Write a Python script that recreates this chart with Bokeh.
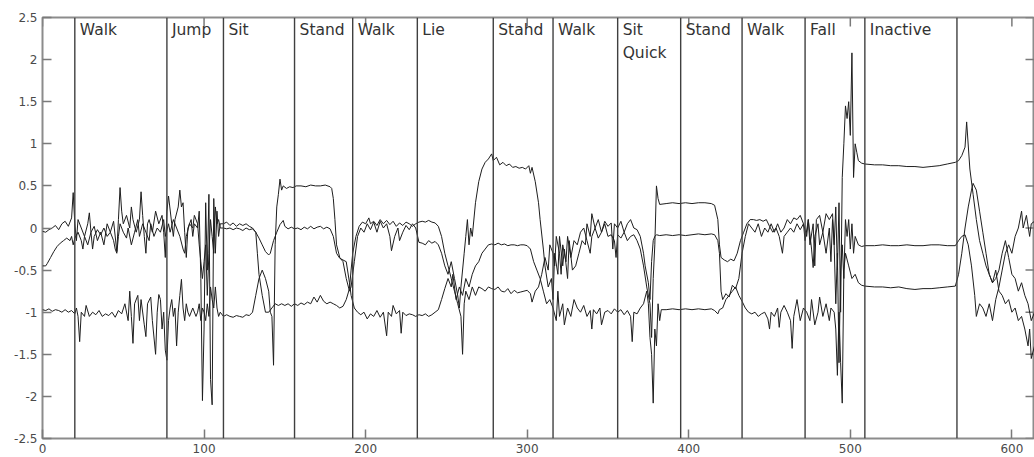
import math
from bokeh.plotting import figure
from bokeh.models import Span, FixedTicker, Range1d, ColumnDataSource
from bokeh.embed import file_html
from bokeh.resources import INLINE
from bokeh.core.properties import value

# ---------------- data ----------------
x_ticks = [0, 100, 200, 300, 400, 500, 600]
y_ticks = [-2.5, -2, -1.5, -1, -0.5, 0, 0.5, 1, 1.5, 2, 2.5]
y_tick_labels = ["-2.5", "-2", "-1.5", "-1", "-0.5", "0", "0.5", "1", "1.5", "2", "2.5"]

region_starts = [20, 77, 112, 156, 192, 232, 279, 316, 356, 395, 433, 472, 509, 566]
region_labels = ["Walk", "Jump", "Sit", "Stand", "Walk", "Lie", "Stahd", "Walk",
                 "Sit\nQuick", "Stand", "Walk", "Fall", "Inactive"]

signal_a = [
    (0, -0.04), (2, -0.05), (4, -0.02), (6, 0.0), (8, 0.03), (10, -0.02), (12, 0.05), (14, 0.08), (16, 0.02),
    (18, 0.12), (19, 0.42), (20, 0.05), (21, -0.15), (22, 0.1), (24, 0.0), (26, -0.1), (28, 0.05), (29, 0.18),
    (30, -0.05), (32, 0.02), (34, -0.15), (36, -0.05), (38, -0.2), (40, 0.05), (42, -0.05), (44, 0.08),
    (46, -0.28), (47, 0.1), (48, 0.48), (49, 0.2), (50, 0.05), (52, 0.15), (54, 0.0), (55, 0.25), (56, 0.1),
    (58, -0.05), (60, 0.1), (61, 0.43), (62, 0.15), (63, -0.1), (64, -0.3), (65, 0.05), (66, 0.1), (68, -0.05),
    (70, 0.2), (72, 0.05), (74, 0.15), (75, -0.05), (76, -0.35), (77, 0.2), (78, 0.38), (80, 0.05), (81, -0.1),
    (82, 0.1), (84, 0.25), (85, 0.45), (86, 0.25), (87, 0.3), (88, -0.05), (89, -0.35), (90, 0.0), (92, 0.1),
    (93, -0.1), (94, 0.05), (96, 0.0), (97, 0.2), (98, -0.6), (99, -2.05), (100, -1.2), (101, 0.3), (102, -0.5),
    (103, 0.4), (104, -1.8), (105, -2.1), (106, 0.35), (107, -0.3), (108, 0.2), (109, -0.1), (110, 0.05),
    (112, 0.05), (114, 0.07), (116, 0.03), (118, 0.06), (120, 0.02), (122, 0.05), (124, 0.03), (126, 0.05),
    (128, 0.02), (130, 0.0), (132, -0.05), (134, -0.12), (136, -0.2), (138, -0.28), (140, -0.32), (141, -0.3),
    (143, -0.15), (145, -0.05), (147, 0.04), (149, 0.09), (150, 0.02), (152, -0.01), (154, 0.01), (156, -0.01),
    (158, 0.0), (160, -0.02), (162, 0.01), (164, -0.01), (166, 0.02), (168, -0.01), (170, 0.01), (172, 0.02),
    (174, -0.01), (176, 0.01), (178, -0.01), (180, -0.1), (182, -0.3), (184, -0.36), (186, -0.38), (188, -0.4),
    (190, -0.65), (191, -0.8), (193, -0.95), (195, -1.0), (197, -1.03), (199, -1.0), (201, -1.08), (203, -1.02),
    (205, -1.05), (207, -0.98), (209, -1.06), (211, -1.0), (213, -1.28), (214, -1.0), (216, -1.05), (217, -0.92),
    (219, -1.02), (221, -0.98), (222, -1.25), (223, -1.0), (225, -1.04), (227, -1.02), (229, -1.03), (231, -1.05),
    (233, -1.03), (235, -1.04), (237, -1.02), (239, -1.05), (241, -1.03), (243, -1.0), (245, -0.97), (247, -0.85),
    (249, -0.72), (251, -0.6), (253, -0.7), (254, -0.55), (256, -0.85), (258, -0.7), (260, -0.8), (262, -0.6),
    (264, -0.7), (266, -0.55), (268, -0.45), (270, -0.4), (272, -0.3), (274, -0.25), (276, -0.2), (278, -0.19),
    (280, -0.2), (282, -0.18), (284, -0.2), (286, -0.19), (288, -0.21), (290, -0.2), (292, -0.2), (294, -0.21),
    (296, -0.2), (298, -0.2), (300, -0.21), (302, -0.25), (304, -0.4), (306, -0.5), (308, -0.6), (310, -0.75),
    (312, -0.9), (314, -0.85), (316, -0.95), (318, -1.1), (319, -0.75), (320, -1.05), (322, -0.9), (323, -1.15),
    (325, -0.95), (327, -1.05), (329, -0.85), (331, -0.95), (333, -1.0), (335, -0.92), (337, -1.05), (339, -0.98),
    (340, -1.2), (341, -0.97), (343, -1.02), (345, -0.95), (346, -1.15), (348, -1.0), (350, -0.98), (352, -1.02),
    (354, -0.96), (356, -1.0), (358, -0.97), (360, -1.03), (362, -0.98), (364, -1.05), (365, -1.35), (366, -1.0),
    (368, -1.02), (370, -0.95), (372, -0.9), (374, -0.75), (375, -0.9), (376, -1.3), (377, -1.5), (378, -2.08),
    (379, -1.2), (380, -1.4), (381, -0.9), (382, -1.1), (383, -0.97), (386, -0.97), (390, -0.96), (394, -0.97),
    (398, -0.96), (402, -0.97), (406, -0.96), (410, -0.97), (414, -0.96), (416, -0.98), (418, -1.02), (419, -0.97),
    (421, -0.95), (423, -0.85), (425, -0.8), (427, -0.75), (429, -0.7), (431, -0.8), (433, -0.87), (435, -0.95),
    (437, -1.0), (439, -1.02), (441, -1.0), (443, -1.05), (445, -1.02), (447, -1.0), (449, -1.08), (450, -1.2),
    (451, -1.0), (453, -1.05), (455, -0.95), (456, -1.18), (457, -1.0), (459, -0.92), (461, -1.0), (463, -1.1),
    (464, -1.43), (465, -1.05), (467, -0.85), (469, -1.1), (471, -0.95), (473, -1.0), (475, -1.1), (476, -0.85),
    (478, -1.15), (480, -1.0), (481, -0.82), (483, -1.05), (485, -0.9), (487, -1.1), (488, -0.95), (490, -1.0),
    (491, -1.2), (492, -1.75), (493, -1.0), (494, -1.6), (495, -2.08), (496, -0.5), (497, -0.3), (499, -0.45),
    (501, -0.6), (503, -0.55), (505, -0.65), (507, -0.68), (509, -0.69), (515, -0.7), (520, -0.7), (525, -0.71),
    (530, -0.7), (535, -0.72), (540, -0.73), (545, -0.72), (550, -0.72), (555, -0.71), (560, -0.7), (565, -0.69),
    (567, -0.55), (569, -0.3), (571, 0.0), (573, 0.25), (575, 0.45), (576, 0.53), (578, 0.45), (580, 0.2),
    (582, -0.05), (584, -0.3), (586, -0.55), (588, -0.65), (590, -0.6), (592, -0.5), (594, -0.3), (596, -0.15),
    (598, -0.35), (600, -0.55), (602, -0.6), (604, -0.75), (606, -0.65), (608, -0.8), (610, -0.9), (612, -1.1),
    (614, -1.0),
]

signal_b = [
    (0, -0.45), (2, -0.45), (3, -0.42), (5, -0.35), (7, -0.28), (9, -0.22), (11, -0.18), (13, -0.15), (15, -0.12),
    (17, -0.15), (18, -0.1), (19, -0.2), (20, -0.12), (22, -0.05), (24, -0.15), (25, -0.25), (26, -0.1), (28, -0.2),
    (30, -0.05), (31, -0.25), (32, -0.1), (34, -0.02), (36, -0.08), (38, 0.0), (40, -0.1), (42, -0.05), (44, -0.15),
    (45, -0.25), (46, -0.3), (47, -0.1), (48, 0.05), (50, -0.05), (52, -0.12), (53, 0.0), (55, -0.2), (57, -0.05),
    (59, 0.1), (60, -0.1), (62, 0.05), (64, -0.05), (66, -0.15), (67, 0.05), (69, -0.1), (71, 0.0), (73, -0.05),
    (75, 0.1), (76, -0.1), (78, 0.05), (79, -0.05), (81, 0.1), (83, 0.0), (85, -0.1), (87, -0.25), (88, -0.3),
    (89, -0.1), (91, 0.05), (93, 0.0), (94, 0.15), (96, 0.05), (97, -0.2), (98, -0.4), (99, -0.6), (100, -0.4),
    (101, -0.2), (102, -0.8), (103, -0.3), (104, 0.1), (105, -0.1), (106, -0.3), (107, 0.25), (108, 0.05),
    (109, 0.1), (110, 0.0), (112, 0.0), (114, -0.01), (116, 0.0), (118, -0.02), (120, 0.0), (122, -0.01),
    (124, -0.03), (126, 0.0), (128, -0.02), (130, -0.01), (132, -0.05), (133, -0.3), (134, -0.55), (136, -0.8),
    (138, -1.0), (140, -1.0), (142, -0.95), (144, -0.9), (146, -0.92), (148, -0.9), (150, -0.92), (152, -0.9),
    (154, -0.93), (156, -0.9), (158, -0.92), (160, -0.89), (162, -0.91), (164, -0.88), (166, -0.9), (168, -0.82),
    (170, -0.88), (172, -0.8), (174, -0.87), (176, -0.9), (178, -0.88), (180, -0.9), (182, -0.92), (184, -0.95),
    (186, -0.93), (188, -0.85), (190, -0.72), (191, -0.5), (192, -0.3), (194, -0.1), (196, 0.02), (198, 0.07),
    (200, 0.05), (202, 0.12), (203, 0.05), (205, 0.08), (207, 0.03), (209, 0.1), (211, 0.05), (213, 0.09),
    (215, 0.04), (217, 0.08), (219, 0.02), (221, 0.06), (223, 0.03), (225, 0.07), (227, 0.05), (229, 0.02),
    (231, 0.05), (233, 0.07), (235, 0.08), (237, 0.07), (239, 0.09), (241, 0.07), (243, 0.06), (245, 0.02),
    (247, -0.1), (249, -0.3), (251, -0.45), (253, -0.6), (255, -0.75), (257, -0.9), (259, -1.05), (260, -1.5),
    (261, -0.9), (262, -0.75), (264, -0.85), (266, -0.7), (268, -0.8), (270, -0.7), (272, -0.72), (274, -0.75),
    (276, -0.7), (278, -0.72), (280, -0.73), (282, -0.7), (284, -0.75), (286, -0.76), (288, -0.72), (290, -0.78),
    (292, -0.74), (294, -0.77), (296, -0.76), (298, -0.75), (300, -0.74), (302, -0.78), (303, -0.88), (305, -0.75),
    (307, -0.7), (309, -0.55), (311, -0.35), (313, -0.5), (314, -0.2), (316, -0.3), (317, -0.45), (318, -0.1),
    (320, -0.3), (321, -0.55), (322, -0.2), (324, -0.4), (325, -0.1), (327, -0.35), (329, -0.15), (331, -0.2),
    (333, -0.05), (335, 0.0), (337, -0.15), (339, -0.3), (340, -0.1), (342, 0.0), (344, -0.12), (346, -0.05),
    (348, 0.05), (350, -0.1), (352, -0.08), (354, -0.15), (355, -0.35), (356, -0.08), (358, -0.12), (360, -0.05),
    (362, -0.15), (364, -0.1), (366, -0.08), (368, -0.15), (370, -0.25), (372, -0.45), (374, -0.7), (376, -0.9),
    (377, -1.3), (378, -0.6), (379, -0.2), (380, 0.5), (381, 0.35), (382, 0.28), (386, 0.29), (390, 0.3),
    (394, 0.29), (398, 0.3), (402, 0.29), (406, 0.3), (410, 0.3), (414, 0.29), (416, 0.27), (418, 0.1),
    (419, -0.2), (420, -0.35), (422, -0.38), (424, -0.4), (426, -0.37), (428, -0.39), (430, -0.3), (432, -0.15),
    (434, -0.05), (436, 0.05), (438, 0.1), (440, 0.1), (442, 0.09), (444, 0.1), (446, 0.08), (448, 0.1),
    (450, 0.02), (452, -0.05), (454, 0.0), (456, -0.1), (458, -0.3), (459, -0.1), (461, -0.05), (463, 0.0),
    (465, -0.05), (467, 0.05), (469, -0.02), (471, 0.05), (472, -0.15), (474, 0.1), (475, -0.2), (477, 0.05),
    (478, -0.45), (479, 0.1), (481, 0.15), (483, -0.05), (485, 0.17), (487, 0.1), (489, 0.17), (490, -0.2),
    (491, 0.25), (492, -0.5), (493, 0.3), (494, -1.0), (495, 0.6), (496, 1.0), (497, 1.45), (498, 1.3),
    (499, 1.5), (500, 1.1), (501, 2.08), (502, 0.6), (503, 1.0), (504, 0.9), (505, 0.8), (507, 0.77), (509, 0.76),
    (515, 0.75), (520, 0.75), (525, 0.74), (530, 0.74), (535, 0.73), (540, 0.73), (545, 0.72), (550, 0.73),
    (555, 0.74), (560, 0.76), (565, 0.78), (567, 0.8), (569, 0.86), (571, 0.96), (572, 1.26), (574, 0.7),
    (576, 0.4), (578, 0.1), (580, -0.15), (582, -0.3), (584, -0.45), (586, -0.55), (588, -0.65), (590, -0.5),
    (592, -0.75), (594, -0.8), (596, -0.9), (598, -0.85), (600, -1.0), (602, -0.95), (604, -1.1), (606, -1.05),
    (608, -1.2), (610, -1.4), (611, -1.2), (612, -1.55), (614, -1.4),
]

signal_c = [
    (0, -0.97), (2, -0.98), (4, -0.96), (6, -0.99), (8, -0.97), (10, -0.98), (12, -1.0), (14, -0.97), (16, -1.0),
    (18, -0.98), (20, -1.02), (21, -0.95), (22, -1.05), (23, -1.35), (24, -1.0), (26, -1.05), (27, -0.92),
    (29, -1.05), (31, -1.0), (33, -1.03), (35, -0.98), (37, -1.05), (39, -1.02), (41, -1.04), (43, -1.0),
    (45, -1.06), (47, -0.98), (49, -1.02), (51, -0.9), (53, -1.1), (54, -0.75), (55, -1.05), (56, -1.37),
    (57, -0.9), (59, -0.8), (60, -1.1), (61, -0.85), (63, -1.15), (64, -1.29), (65, -0.9), (67, -0.82),
    (68, -1.1), (70, -1.5), (71, -1.0), (72, -0.79), (73, -0.85), (74, -1.2), (75, -1.0), (76, -1.45),
    (77, -1.57), (78, -1.1), (79, -0.95), (80, -0.85), (81, -1.05), (82, -0.95), (83, -1.4), (84, -1.0),
    (85, -0.8), (86, -0.61), (87, -0.95), (88, -1.1), (89, -0.9), (90, -1.0), (91, -1.05), (93, -0.95),
    (95, -1.05), (96, -1.0), (97, -0.9), (98, -1.1), (99, -0.95), (100, -1.0), (101, -1.1), (102, -0.9),
    (103, -1.05), (104, -0.7), (105, -0.85), (106, -0.95), (107, -0.7), (108, -0.95), (109, -1.05), (110, -1.0),
    (112, -1.05), (114, -1.03), (116, -1.05), (118, -1.06), (120, -1.04), (122, -1.05), (124, -1.06),
    (126, -1.03), (128, -1.04), (130, -1.0), (132, -0.8), (134, -0.6), (136, -0.5), (138, -0.6), (140, -0.75),
    (141, -1.0), (142, -1.05), (143, -1.63), (144, -0.2), (145, 0.25), (146, 0.4), (147, 0.58), (148, 0.45),
    (149, 0.5), (151, 0.47), (153, 0.49), (155, 0.48), (157, 0.5), (160, 0.5), (163, 0.49), (166, 0.51),
    (169, 0.5), (172, 0.5), (175, 0.51), (178, 0.49), (179, 0.47), (180, 0.35), (181, 0.1), (182, -0.2),
    (184, -0.35), (186, -0.4), (188, -0.6), (190, -0.75), (191, -0.7), (193, -0.4), (195, -0.1), (197, 0.0),
    (199, -0.05), (201, 0.05), (203, -0.02), (205, 0.07), (207, -0.05), (209, 0.08), (211, 0.0), (213, 0.05),
    (215, -0.1), (216, -0.27), (218, -0.1), (220, 0.0), (221, -0.15), (223, -0.05), (225, 0.03), (227, -0.02),
    (229, 0.05), (231, 0.0), (233, -0.17), (235, -0.18), (237, -0.2), (239, -0.15), (241, -0.18), (243, -0.16),
    (245, -0.2), (247, -0.3), (249, -0.45), (251, -0.55), (253, -0.4), (255, -0.6), (257, -0.8), (258, -0.95),
    (259, -0.7), (261, -0.3), (262, -0.1), (263, 0.1), (264, -0.2), (265, 0.0), (266, -0.1), (268, 0.3),
    (270, 0.55), (272, 0.7), (274, 0.78), (276, 0.82), (278, 0.88), (279, 0.8), (281, 0.84), (283, 0.75),
    (285, 0.78), (287, 0.74), (289, 0.76), (291, 0.72), (293, 0.73), (295, 0.71), (297, 0.72), (299, 0.7),
    (301, 0.74), (302, 0.65), (303, 0.72), (305, 0.55), (307, 0.3), (308, 0.1), (310, -0.25), (311, -0.45),
    (313, -0.7), (315, -0.6), (316, -0.85), (317, -0.3), (319, -0.55), (320, -0.1), (322, -0.45), (323, -0.25),
    (325, -0.6), (326, -0.15), (328, -0.5), (330, -0.45), (332, -0.3), (334, -0.15), (336, -0.2), (337, 0.05),
    (339, -0.1), (340, 0.17), (342, 0.0), (344, 0.1), (346, -0.05), (348, 0.08), (350, 0.02), (352, 0.06),
    (353, -0.25), (354, 0.05), (356, 0.0), (358, 0.08), (360, -0.05), (362, 0.05), (364, 0.1), (366, 0.0),
    (368, -0.02), (370, -0.1), (372, -0.3), (373, -0.45), (375, -0.65), (376, -0.85), (377, -0.4), (378, -0.15),
    (379, -0.1), (380, -0.08), (382, -0.09), (386, -0.08), (390, -0.09), (394, -0.08), (398, -0.09), (402, -0.08),
    (406, -0.07), (410, -0.08), (414, -0.07), (416, -0.08), (418, -0.15), (419, -0.3), (420, -0.75), (421, -0.85),
    (423, -0.78), (425, -0.82), (427, -0.68), (429, -0.72), (431, -0.6), (433, -0.3), (435, -0.1), (437, 0.05),
    (439, 0.0), (441, -0.05), (443, 0.05), (445, -0.1), (447, 0.0), (449, -0.05), (451, 0.05), (453, -0.05),
    (455, 0.05), (457, -0.05), (459, 0.0), (461, 0.1), (463, 0.05), (465, 0.12), (467, 0.1), (469, 0.15),
    (471, 0.05), (473, -0.1), (474, 0.1), (476, -0.25), (477, -0.47), (478, -0.1), (480, 0.05), (481, -0.2),
    (483, -0.05), (485, -0.3), (487, 0.0), (488, -0.4), (489, 0.1), (490, -0.2), (491, -0.9), (492, -0.3),
    (493, -1.6), (494, -0.5), (495, -0.2), (496, -0.6), (497, 0.1), (498, -0.1), (499, 0.1), (500, -0.25),
    (501, 0.05), (502, -0.3), (503, -0.1), (505, -0.2), (507, -0.22), (509, -0.21), (515, -0.21), (520, -0.2),
    (525, -0.21), (530, -0.21), (535, -0.2), (540, -0.21), (545, -0.21), (550, -0.2), (555, -0.2), (560, -0.21),
    (565, -0.21), (567, -0.15), (569, -0.1), (571, -0.08), (573, -0.2), (575, -0.45), (577, -0.8), (578, -1.05),
    (580, -0.9), (582, -0.95), (584, -1.05), (586, -0.9), (588, -1.1), (590, -0.85), (592, -0.7), (594, -0.5),
    (596, -0.3), (598, -0.2), (600, -0.3), (602, -0.1), (604, 0.0), (606, 0.2), (607, 0.0), (609, 0.15),
    (611, -0.1), (612, 0.05), (614, 0.08),
]

# ---------------- figure ----------------
X_MIN, X_MAX = 0, 614
Y_MIN, Y_MAX = -2.5, 2.5

p = figure(frame_width=992, frame_height=421,
           x_range=Range1d(X_MIN, X_MAX), y_range=Range1d(Y_MIN, Y_MAX),
           output_backend="svg", toolbar_location=None,
           min_border_left=42, min_border_right=0, min_border_top=17, min_border_bottom=18)

p.background_fill_color = "white"
p.border_fill_color = "white"
p.xgrid.visible = False
p.ygrid.visible = False
p.outline_line_color = "#8c8c8c"
p.outline_line_width = 2

TICK_COLOR = "#7a7a7a"
LABEL_COLOR = "#4a4a4a"
FONT = "DejaVu Sans"


def style_axis(ax, ticks):
    ax.ticker = FixedTicker(ticks=ticks)
    ax.major_tick_in = 9
    ax.major_tick_out = 0
    ax.minor_tick_line_color = None
    ax.major_tick_line_color = TICK_COLOR
    ax.major_tick_line_width = 1.5
    ax.axis_line_color = None
    ax.major_label_text_font = FONT
    ax.major_label_text_color = LABEL_COLOR
    ax.major_label_text_font_size = "12px"
    ax.major_label_standoff = 5


style_axis(p.xaxis[0], x_ticks)
style_axis(p.yaxis[0], y_ticks)
p.yaxis[0].major_label_overrides = {t: s for t, s in zip(y_ticks, y_tick_labels)}

# inward ticks on the top and right edges of the box (screen-length rays)
p.ray(x=x_ticks, y=[Y_MAX] * len(x_ticks), length=9, length_units="screen",
      angle=-math.pi / 2, line_color=TICK_COLOR, line_width=1.5)
p.ray(x=[X_MAX] * len(y_ticks), y=y_ticks, length=9, length_units="screen",
      angle=math.pi, line_color=TICK_COLOR, line_width=1.5)

# activity boundaries
for xv in region_starts:
    p.add_layout(Span(location=xv, dimension="height", line_color="#404040", line_width=1.4))

# signals
for pts in (signal_a, signal_b, signal_c):
    xs = [q[0] for q in pts]
    ys = [q[1] for q in pts]
    p.line(xs, ys, line_color="#1e1e1e", line_width=1.0)

# activity labels
lab_src = ColumnDataSource(dict(x=region_starts[:len(region_labels)],
                                y=[Y_MAX] * len(region_labels),
                                text=region_labels))
p.text(x="x", y="y", text="text", source=lab_src, x_offset=5, y_offset=3,
       text_baseline="top", text_align="left", text_font=value(FONT),
       text_font_size="15.5px", text_color="#333333", text_line_height=1.3)

open("out.html", "w").write(file_html(p, INLINE))
